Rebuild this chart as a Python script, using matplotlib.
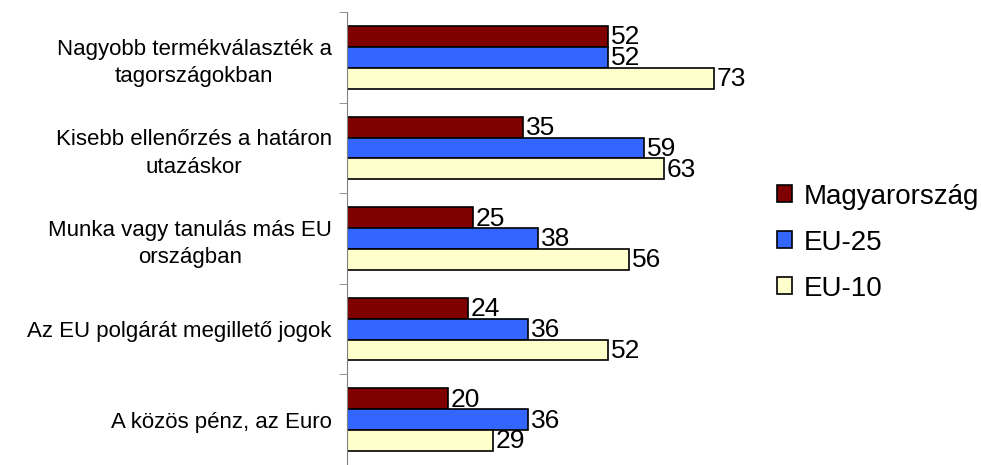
import numpy as np
import matplotlib.pyplot as plt

categories = [
    "Nagyobb termékválaszték a\ntagországokban",
    "Kisebb ellenőrzés a határon\nutazáskor",
    "Munka vagy tanulás más EU\nországban",
    "Az EU polgárát megillető jogok",
    "A közös pénz, az Euro",
]
magyarorszag = [52, 35, 25, 24, 20]
eu25 = [52, 59, 38, 36, 36]
eu10 = [73, 63, 56, 52, 29]
series_names = ["Magyarország", "EU-25", "EU-10"]
colors = ["#800000", "#3366FF", "#FFFFCC"]

plt.rcParams["font.family"] = ["Liberation Sans", "DejaVu Sans"]

fig = plt.figure(figsize=(9.81, 4.65), dpi=100)
ax = fig.add_axes([0.3537, 0.0, 0.41, 0.974])

n = len(categories)
y = np.arange(n)
h = 0.23
for i, (vals, name, c) in enumerate(zip([magyarorszag, eu25, eu10], series_names, colors)):
    pos = y + (i - 1) * h
    ax.barh(pos, vals, height=h, color=c, edgecolor="black", linewidth=1.2, label=name)
    for p, v in zip(pos, vals):
        ax.text(v + 0.6, p + 0.01, str(v), va="center", ha="left", fontsize=19)

ax.set_ylim(n - 0.5, -0.5)
ax.set_xlim(0, 80)
ax.set_yticks(y)
ax.set_yticklabels(categories, fontsize=16, multialignment="center", linespacing=1.4)
ax.tick_params(axis="y", which="major", length=0, pad=11)
ax.set_yticks(np.arange(-0.5, n, 1), minor=True)
ax.tick_params(axis="y", which="minor", length=6, color="#808080")
ax.set_xticks([])
for s in ["top", "right", "bottom"]:
    ax.spines[s].set_visible(False)
ax.spines["left"].set_color("#808080")

leg = fig.legend(loc="upper left", bbox_to_anchor=(0.792, 0.605), frameon=False,
                 fontsize=20, handlelength=0.55, handleheight=0.55, handletextpad=0.4,
                 labelspacing=0.72, borderpad=0, borderaxespad=0)
for patch in leg.get_patches():
    patch.set_linewidth(1.2)

fig.savefig("out.png", dpi=100)
